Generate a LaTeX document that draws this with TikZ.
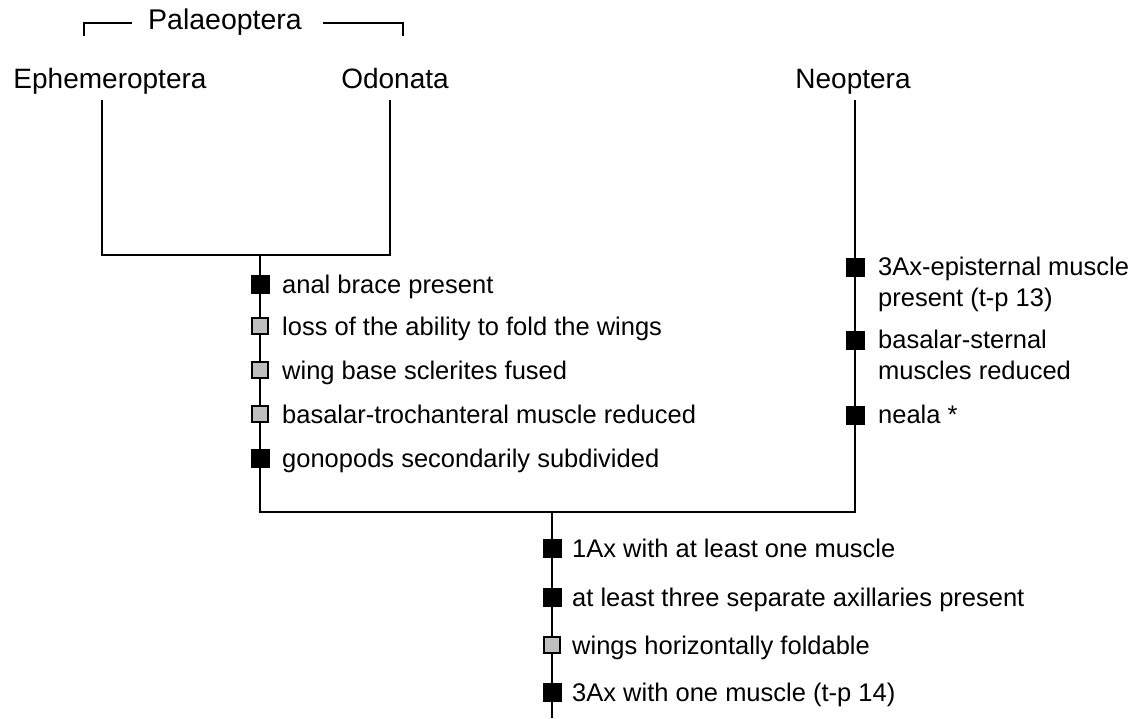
\documentclass[tikz,border=0pt]{standalone}
\usepackage{fontspec}
\setmainfont{Liberation Sans}
\tikzset{
  taxon/.style={anchor=base, inner sep=0pt, font=\fontsize{28}{31}\selectfont},
  branch/.style={line width=2.4pt},
  bracket/.style={line width=2pt},
  charblack/.style={draw, fill=black, line width=1pt, minimum size=18pt, inner sep=0pt},
  chargray/.style={draw, fill=gray!50, line width=2pt, minimum size=16pt, inner sep=0pt},
  charlabel/.style={anchor=base west, inner sep=0pt, font=\fontsize{25.5}{31}\selectfont},
  charlabelii/.style={anchor=north west, inner sep=0pt, align=left, font=\fontsize{25.5}{31}\selectfont},
}
\begin{document}
\begin{tikzpicture}[x=1pt,y=-1pt]
    \useasboundingbox[fill=white] (0,0) rectangle (1135,718);

    \node[taxon, font=\fontsize{28.5}{31}\selectfont] (Pal) at (225,29){Palaeoptera};
    \node[taxon] (Eph) at (110,88){Ephemeroptera};
    \node[taxon] (Odo) at (395,88){Odonata};
    \node[taxon] (Neo) at (853,88){Neoptera};

    \coordinate (PalL) at (84,36);
    \coordinate (PalR) at (403,36);
    \draw[bracket] (PalL) |- ([xshift=-16pt,yshift=-1pt]Pal.west);
    \draw[bracket] (PalR) |- ([xshift=21pt,yshift=-1pt]Pal.east);

    \coordinate (EphTop) at (102,100);
    \coordinate (OdoTop) at (390,100);
    \coordinate (NeoTop) at (855,100);
    \coordinate (PalNode) at (260,255);
    \coordinate (Root) at (552,512);
    \coordinate (Stem) at (552,718);

    \draw[branch] (EphTop) |- (PalNode) -| (OdoTop);
    \draw[branch] (PalNode) |- (Root) -| (NeoTop);
    \draw[branch] (Root) -- (Stem);

    % Palaeoptera
    \foreach \y/\s/\t in {284/charblack/{anal brace present},
                          326/chargray/{loss of the ability to fold the wings},
                          370/chargray/{wing base sclerites fused},
                          414/chargray/{basalar-trochanteral muscle reduced},
                          458/charblack/{gonopods secondarily subdivided}}{
      \node[\s] (P\y) at (260,\y){};
      \node[charlabel] (PL\y) at (282,\y+9){\t};
    }

    % Neoptera
    \foreach \y/\t in {267/{3Ax-episternal muscle\\present (t-p 13)},
                       340/{basalar-sternal\\muscles reduced},
                       415/{neala *}}{
      \node[charblack] (N\y) at (855,\y){};
      \node[charlabelii] (NL\y) at (878,\y-10){\t};
    }

    % Pterygota
    \foreach \y/\s/\t in {548/charblack/{1Ax with at least one muscle},
                          597/charblack/{at least three separate axillaries present},
                          645/chargray/{wings horizontally foldable},
                          692/charblack/{3Ax with one muscle (t-p 14)}}{
      \node[\s] (R\y) at (552,\y){};
      \node[charlabel] (RL\y) at (572,\y+9){\t};
    }
\end{tikzpicture}
\end{document}
